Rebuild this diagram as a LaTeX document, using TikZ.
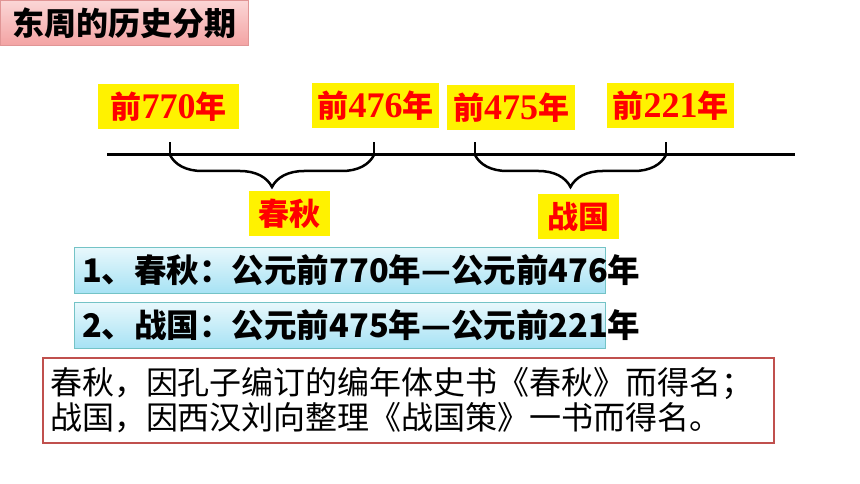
\documentclass[tikz,border=0pt]{standalone}
\usepackage{fontspec}
\usepackage{tikz}
\usetikzlibrary{positioning}
\usetikzlibrary{decorations.pathreplacing}
\newfontfamily\cjk{Noto Sans CJK SC}
\newfontfamily\numfont{Liberation Serif}
\definecolor{pinktop}{HTML}{FBD6D6}
\definecolor{pinkbot}{HTML}{F3A3A3}
\definecolor{pinkline}{HTML}{E09595}
\definecolor{bluetop}{HTML}{E8F8FC}
\definecolor{bluebot}{HTML}{A6E2F4}
\definecolor{blueline}{HTML}{74C3C6}
\definecolor{noteline}{HTML}{C0504D}
\newcommand\yr[1]{前{\numfont\bfseries\fontsize{36}{36}\selectfont #1}年}
\tikzset{
  yearbox/.style={fill=yellow, text=red, inner sep=0pt, minimum height=45pt,
    font=\cjk\bfseries\fontsize{31}{34}\selectfont},
  periodbrace/.style={line width=2.5pt, decorate,
    decoration={brace, mirror, amplitude=32pt}},
  rowbox/.style={draw=blueline, line width=1pt, top color=bluetop,
    bottom color=bluebot, minimum width=531pt, minimum height=46pt, inner sep=0pt},
  rowtext/.style={inner sep=0pt, font=\cjk\bfseries\fontsize{32.5}{36}\selectfont}
}

\begin{document}
\begin{tikzpicture}[x=1pt, y=-1pt]
    \useasboundingbox (0,0) rectangle (860,484);
    % title
    \node[draw=pinkline, line width=1pt, top color=pinktop, bottom color=pinkbot,
      anchor=north west, minimum width=248pt, minimum height=45pt,
      font=\cjk\bfseries\fontsize{32}{34}\selectfont] (title) at (0,0) {东周的历史分期};
    % time line
    \coordinate (lstart) at (107,155);
    \coordinate (lend) at (795,155);
    \draw[line width=3pt] (lstart) -- (lend);
    \foreach \n/\x in {a/170, b/374, c/475, d/666}{
      \coordinate (t\n) at (\x,155);
      \draw[line width=2.5pt] (t\n) -- ++(0,-13);
    }
    \draw[periodbrace] (ta) -- (tb);
    \draw[periodbrace] (tc) -- (td);
    % years
    \node[yearbox, minimum width=141pt] (y770) at (168.5,107) {\yr{770}};
    \node[yearbox, minimum width=127pt] (y476) at (375.5,105.5) {\yr{476}};
    \node[yearbox, minimum width=128pt] (y475) at (511,108) {\yr{475}};
    \node[yearbox, minimum width=127pt] (y221) at (670.5,106) {\yr{221}};
    \node[yearbox, minimum width=81pt] (chunqiu) at (289.5,213.5) {春秋};
    \node[yearbox, minimum width=81pt] (zhanguo) at (578.5,216.5) {战国};
    % periods
    \node[rowbox, anchor=north west] (row1) at (74,247) {};
    \node[rowtext, anchor=west] (row1text) at ([xshift=8pt]row1.west) {1、春秋：公元前770年—公元前476年};
    \node[rowbox, anchor=north west] (row2) at (74,302) {};
    \node[rowtext, anchor=west] (row2text) at ([xshift=8pt]row2.west) {2、战国：公元前475年—公元前221年};
    % note
    \node[draw=noteline, line width=2pt, anchor=north west, text width=717pt,
      minimum height=85pt, inner xsep=7pt, inner ysep=0pt, align=left,
      font=\cjk\fontsize{32}{35}\selectfont] (note) at (42,357)
      {春秋，因孔子编订的编年体史书《春秋》而得名；\\战国，因西汉刘向整理《战国策》一书而得名。};
\end{tikzpicture}
\end{document}
